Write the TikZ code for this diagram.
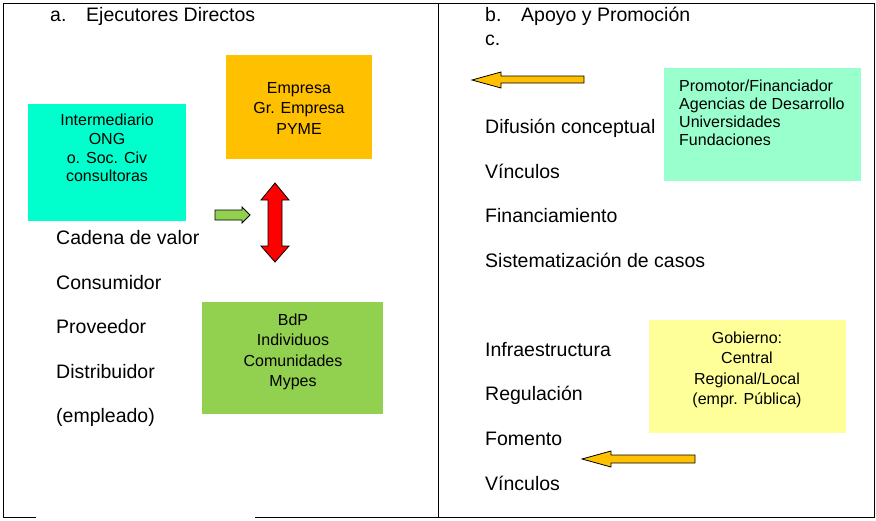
\documentclass[tikz,border=0pt]{standalone}
\usepackage{fontspec}
\setmainfont{Liberation Sans}
\definecolor{cyanbox}{HTML}{00FFCC}
\definecolor{orangebox}{HTML}{FFC000}
\definecolor{greenbox}{HTML}{92D050}
\definecolor{mintbox}{HTML}{99FFCC}
\definecolor{yellowbox}{HTML}{FFFF99}
\begin{document}
\begin{tikzpicture}[x=1pt,y=-1pt,
  frame/.style={line width=1pt,black},
  listtxt/.style={anchor=west,inner sep=0pt,yshift=-1.5pt,font=\fontsize{19.5}{22}\selectfont,text height=14pt,text depth=4pt},
  boxtxt/.style={inner sep=0pt,font=\fontsize{16}{20.5}\selectfont,align=center},
  arrowshape/.style={draw=black,line width=0.8pt,line join=miter}]
\useasboundingbox (0,0) rectangle (876,520);
% frame
\draw[frame] (3,517) -- (3,3) -- (874,3) -- (874,517) -- (255,517);
\draw[frame] (3,517) -- (36,517);
\draw[frame] (438,3) -- (438,517);
% headers
\node[listtxt] (ha) at (50,15) {a.};
\node[listtxt] (hat) at (86,15) {Ejecutores Directos};
\node[listtxt] (hb) at (485,15) {b.};
\node[listtxt] (hbt) at (521,15) {Apoyo y Promoción};
\node[listtxt] (hc) at (485,39) {c.};
% boxes
\fill[cyanbox] (28,104) rectangle (186,221);
\node[boxtxt,font=\fontsize{16}{18.7}\selectfont] (inter) at (107,148) {Intermediario\\ONG\\o. Soc. Civ\\consultoras};
\fill[orangebox] (226,55) rectangle (372,159);
\node[boxtxt] (emp) at (299,108) {Empresa\\Gr. Empresa\\PYME};
\fill[greenbox] (202,302) rectangle (383,414);
\node[boxtxt] (bdp) at (293,352) {BdP\\Individuos\\Comunidades\\Mypes};
\fill[mintbox] (664,68) rectangle (861,181);
\node[boxtxt,align=left,anchor=west,font=\fontsize{16}{18}\selectfont] (prom) at (679,113) {Promotor/Financiador\\Agencias de Desarrollo\\Universidades\\Fundaciones};
\fill[yellowbox] (649,320) rectangle (846,433);
\node[boxtxt] (gob) at (747,370) {Gobierno:\\Central\\Regional/Local\\(empr. Pública)};
% left list
\node[listtxt] (l1) at (56,238) {Cadena de valor};
\node[listtxt] (l2) at (56,283) {Consumidor};
\node[listtxt] (l3) at (56,327) {Proveedor};
\node[listtxt] (l4) at (56,372) {Distribuidor};
\node[listtxt] (l5) at (56,416) {(empleado)};
% right list
\node[listtxt] (r1) at (485,127) {Difusión conceptual};
\node[listtxt] (r2) at (485,172) {Vínculos};
\node[listtxt] (r3) at (485,216) {Financiamiento};
\node[listtxt] (r4) at (485,261) {Sistematización de casos};
\node[listtxt] (r5) at (485,350) {Infraestructura};
\node[listtxt] (r6) at (485,394) {Regulación};
\node[listtxt] (r7) at (485,439) {Fomento};
\node[listtxt] (r8) at (485,484) {Vínculos};
% arrows
\draw[arrowshape,fill=greenbox] (215,210) -- (242,210) -- (242,207) -- (250,215) -- (242,223) -- (242,220) -- (215,220) -- cycle;
\draw[arrowshape,fill=red] (275,183) -- (289,200) -- (282,200) -- (282,246) -- (289,246) -- (275,262) -- (261,246) -- (268,246) -- (268,200) -- (261,200) -- cycle;
\draw[arrowshape,fill=orangebox] (472,80) -- (501,72) -- (501,76) -- (584,76) -- (584,83) -- (501,83) -- (501,88) -- cycle;
\draw[arrowshape,fill=orangebox] (582,459) -- (611,451) -- (611,455) -- (695,455) -- (695,463) -- (611,463) -- (611,467) -- cycle;
\end{tikzpicture}
\end{document}
